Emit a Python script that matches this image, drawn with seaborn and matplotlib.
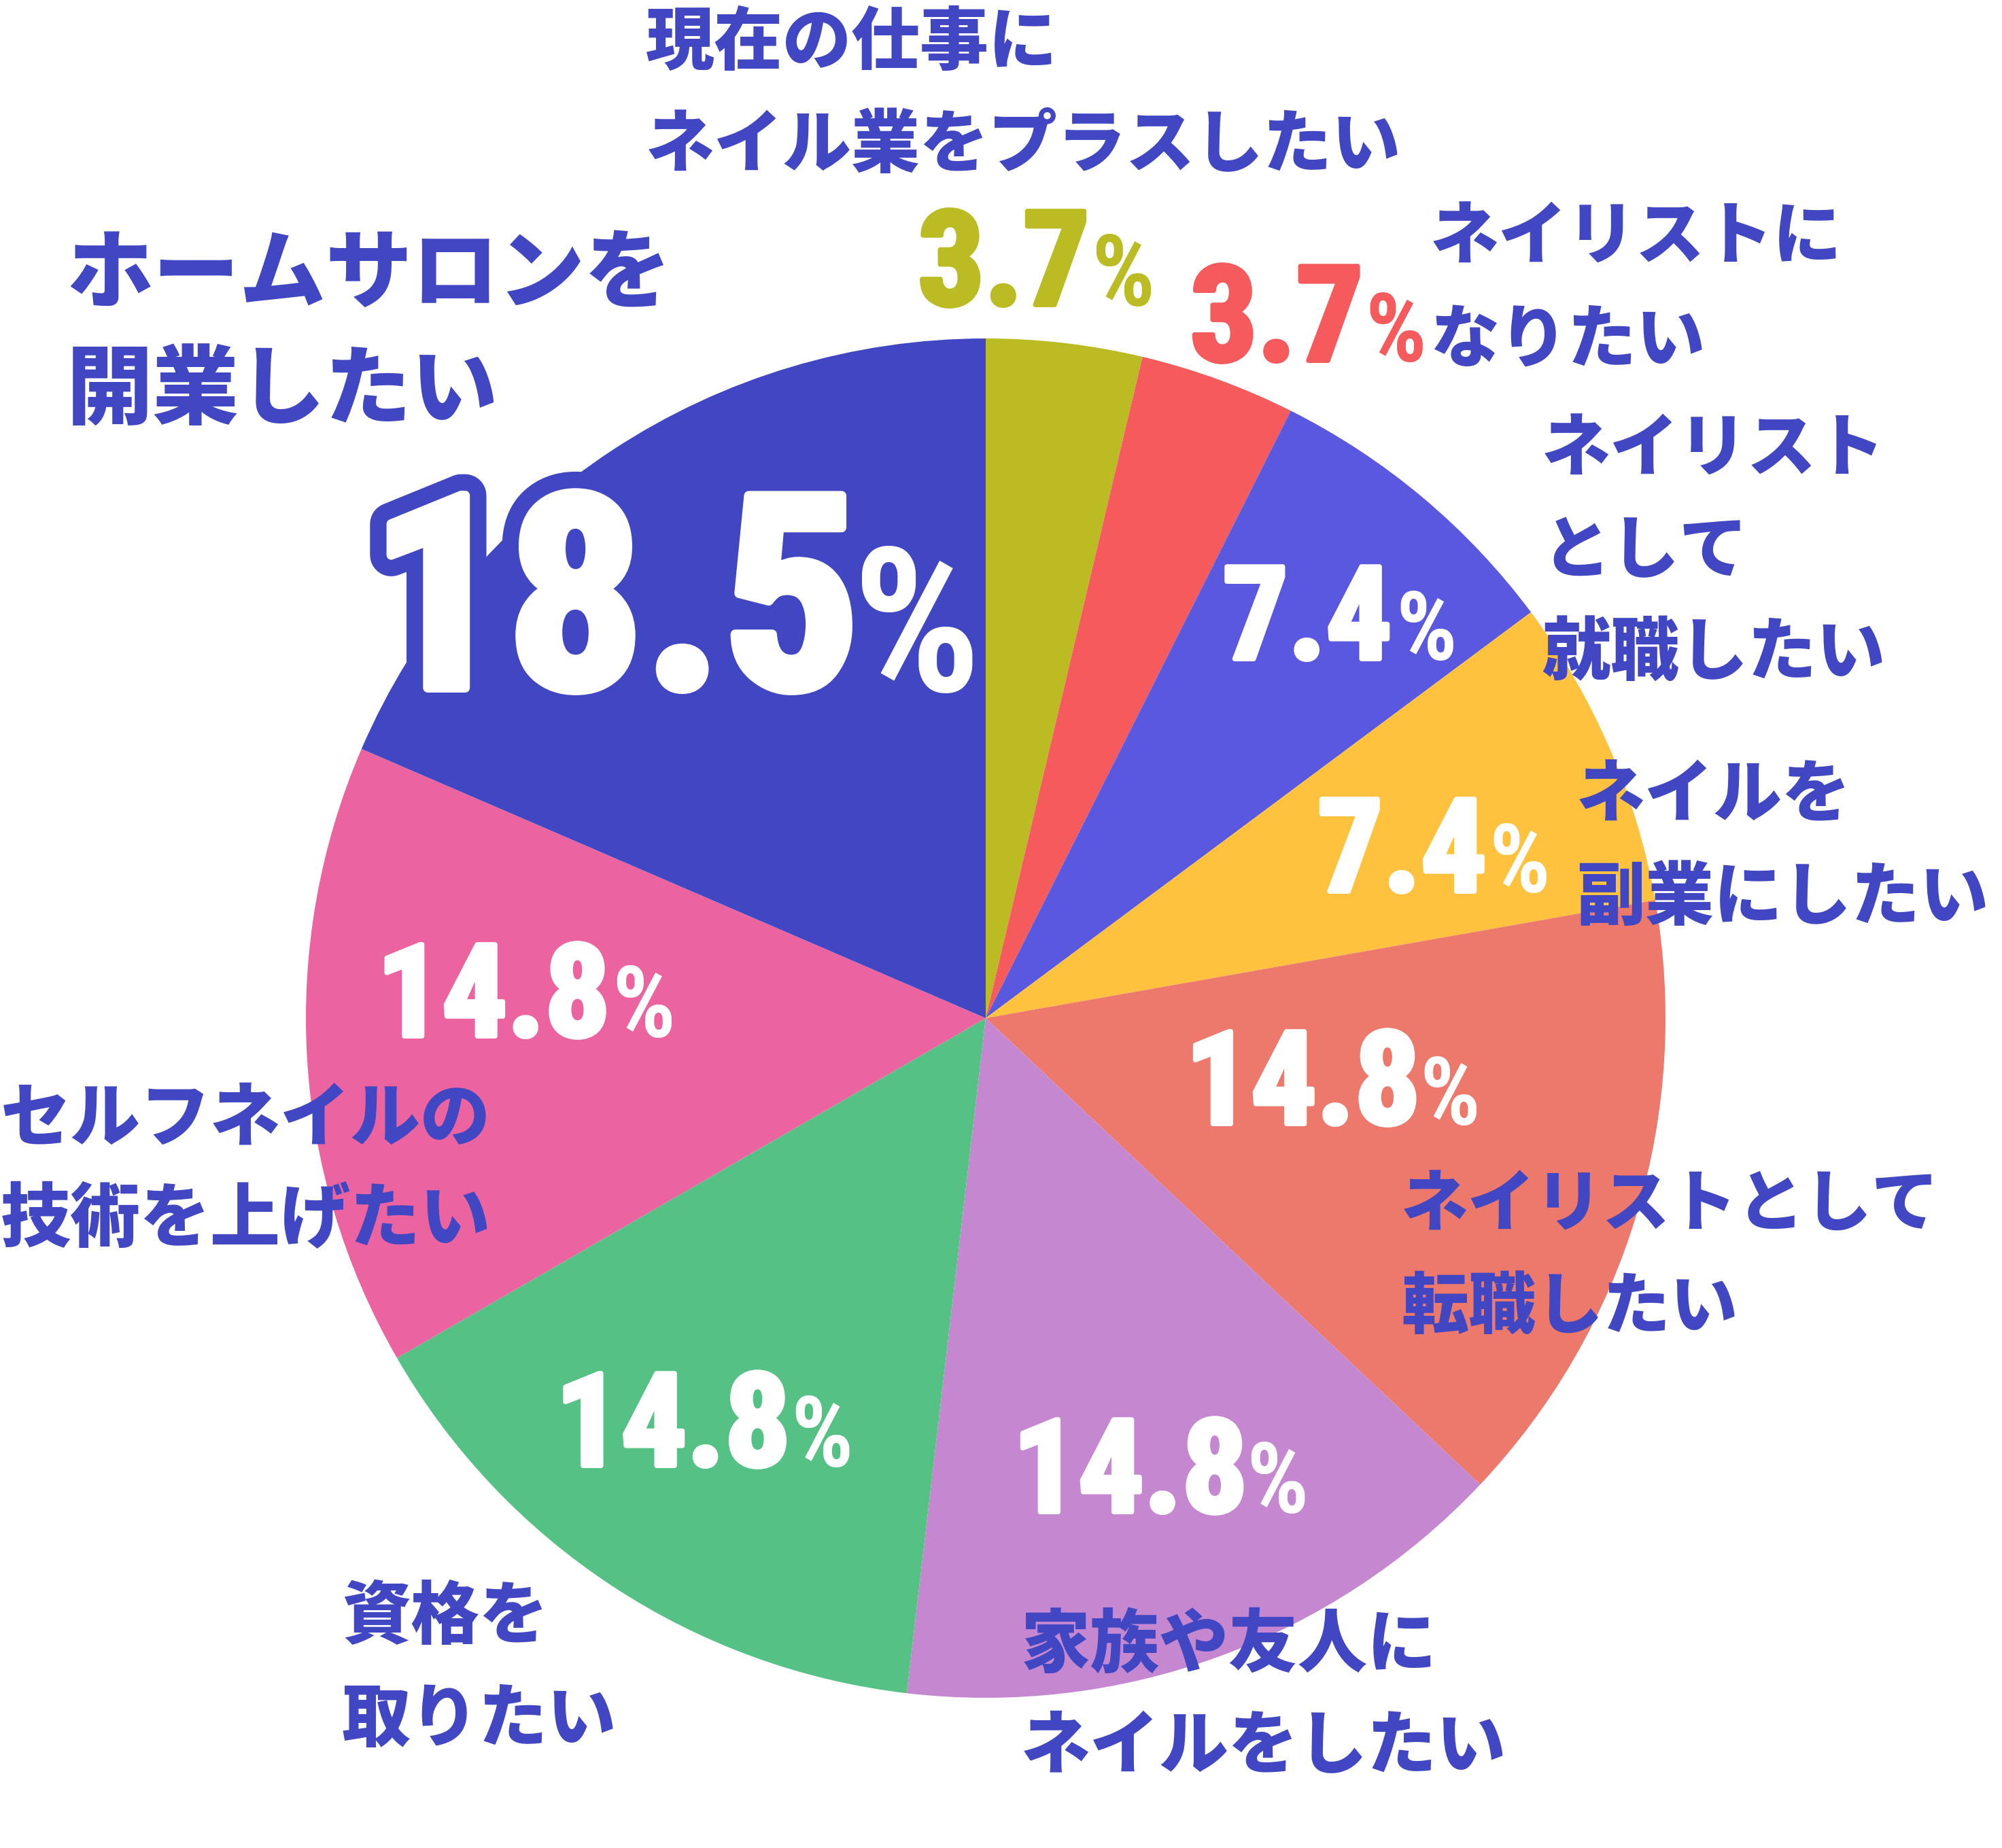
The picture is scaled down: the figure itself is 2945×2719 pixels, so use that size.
import numpy as np
import matplotlib
matplotlib.use("Agg")
import matplotlib.pyplot as plt
import matplotlib.patheffects as pe
from matplotlib import font_manager
from matplotlib.font_manager import FontProperties
from matplotlib.textpath import TextPath
import seaborn as sns

# data
categories = [
    "現在の仕事に\nネイル業をプラスしたい",
    "ネイリストに\nなりたい",
    "ネイリスト\nとして\n就職したい",
    "ネイルを\n副業にしたい",
    "ネイリストとして\n転職したい",
    "家族や友人に\nネイルをしたい",
    "資格を\n取りたい",
    "セルフネイルの\n技術を上げたい",
    "ホームサロンを\n開業したい",
]
shares = [3.7, 3.7, 7.4, 7.4, 14.8, 14.8, 14.8, 14.8, 18.5]
share_text = ["3.7", "3.7", "7.4", "7.4", "14.8", "14.8", "14.8", "14.8", "18.5"]
slice_colors = ["#BBBC23", "#F55A5C", "#5A58DE", "#FFC23F", "#EC796B",
                "#C487D0", "#55C185", "#EB64A0", "#4147C2"]
value_colors = ["#BBBC23", "#F55A5C"] + ["#FFFFFF"] * 7
label_color = "#4147C2"

# layout in pixels, origin top-left
W, H = 2945, 2719
pie_center = (1450, 1498)
pie_radius = 1000
label_anchor = [(950, 56), (2104, 342), (2268, 654), (2319, 1163), (2061, 1766),
                (1502, 2413), (503, 2372), (1, 1638), (98, 395)]
label_step = [151, 152, 150, 151, 151, 149, 151, 149, 171]
label_em = [101, 101, 101, 101, 99, 102, 101, 103, 127]
num_box = [(1361, 1592, 452), (1763, 1993, 534), (1813, 2033, 973), (1946, 2179, 1315),
           (1760, 2073, 1657), (1506, 1819, 2228), (834, 1146, 2160), (570, 882, 1528),
           (579, 1230, 1019)]
num_height = [145, 146, 143, 143, 143, 143, 143, 142, 297]
pct_left = [1601, 2005, 2053, 2189, 2088, 1833, 1163, 900, 1254]
pct_height = [107, 103, 103, 103, 102, 105, 105, 107, 217]

sns.set_theme(style="white")
plt.rcParams["font.family"] = ["Noto Sans CJK JP", "DejaVu Sans"]

names = {f.name for f in font_manager.fontManager.ttflist}
num_family = next((n for n in ["Liberation Sans Narrow", "Roboto Condensed",
                               "Open Sans Condensed", "DejaVu Sans"] if n in names), "DejaVu Sans")
fp_num = FontProperties(family=num_family, weight=900, stretch="condensed")
fp_pct = FontProperties(family=num_family, weight="bold", stretch="condensed")


def ink(s, fp):
    ext = TextPath((0, 0), s, size=100, prop=fp).get_extents()
    return ext.width / 100, ext.height / 100


digit_ratio = ink("147", fp_num)[1]
pct_ratio = ink("%", fp_pct)[1]

fig = plt.figure(figsize=(W / 100, H / 100), dpi=100)
ax = fig.add_axes([0, 0, 1, 1])
ax.pie(shares, colors=sns.color_palette(slice_colors), startangle=-90, counterclock=True,
       center=pie_center, radius=pie_radius, wedgeprops=dict(linewidth=0))
ax.set_xlim(0, W)
ax.set_ylim(H, 0)
ax.axis("off")

for i, lab in enumerate(categories):
    x, y0 = label_anchor[i]
    em = label_em[i]
    for j, line in enumerate(lab.split("\n")):
        ax.text(x, y0 + j * label_step[i] + 0.38 * em, line, fontsize=em * 0.72,
                fontweight=900, color=label_color, ha="left", va="baseline", zorder=5)

big = int(np.argmax(shares))
for i, s in enumerate(share_text):
    left, right, base = num_box[i]
    thick = 10 if i == big else 5          # extra weight, in points
    em = (num_height[i] - thick / 0.72) / digit_ratio
    wid = ink(s, fp_num)[0] * em
    cx = (left + right) / 2
    fx = [pe.Stroke(linewidth=thick, foreground=value_colors[i], joinstyle="round"), pe.Normal()]
    if i == big:
        fx = [pe.Stroke(linewidth=45, foreground=label_color, joinstyle="round")] + fx
    ax.text(cx, base - thick / 1.44, s, fontproperties=fp_num, fontsize=em * 0.72,
            color=value_colors[i], ha="center", va="baseline", zorder=6, path_effects=fx)
    pem = pct_height[i] / pct_ratio
    px = max(pct_left[i], cx + wid / 2 + 10)
    ax.text(px, base - 2, "%", fontproperties=fp_pct, fontsize=pem * 0.72,
            color=value_colors[i], ha="left", va="baseline", zorder=6)

fig.savefig("out.png", dpi=100)
